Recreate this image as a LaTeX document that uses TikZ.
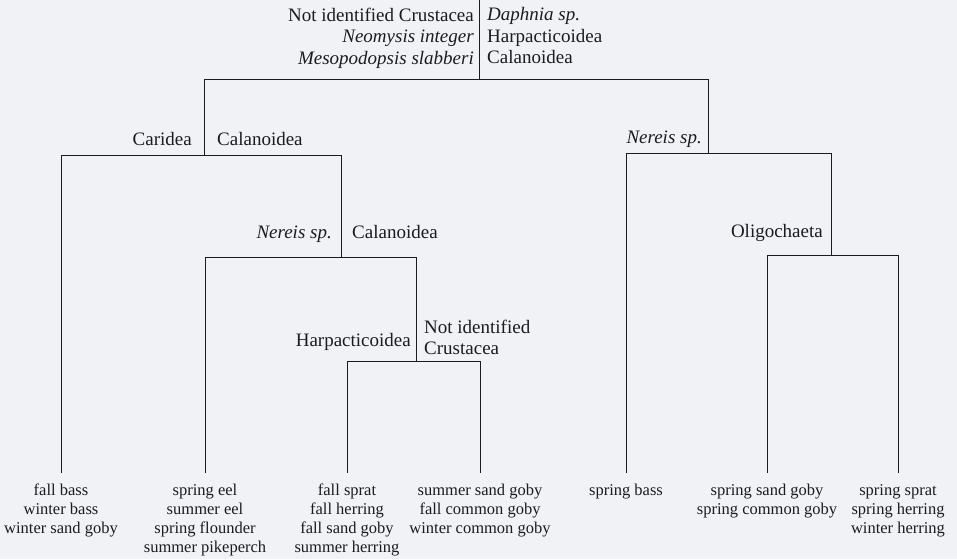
\documentclass[tikz,border=0pt]{standalone}
\usepackage{fontspec}
\setmainfont{Liberation Serif}
\usetikzlibrary{positioning}
\definecolor{paper}{RGB}{241,242,246}
\definecolor{ink}{RGB}{28,28,30}

\begin{document}
\begin{tikzpicture}[x=1pt, y=-1pt,
        branch/.style={draw=ink, line width=0.9pt},
        prey/.style={inner sep=0pt, text=ink, font=\fontsize{19}{21.5}\selectfont},
        leaf/.style={anchor=north, align=center, inner xsep=0pt, inner ysep=11pt,
            text=ink, font=\fontsize{16.5}{19}\selectfont}]
        \fill[paper] (0,0) rectangle (957,559);
        \useasboundingbox (0,0) rectangle (957,559);

        % joints of the tree
        \coordinate (top) at (479,0);
        \coordinate (n0) at (479,79);
        \coordinate (n1) at (204,155);
        \coordinate (n2) at (708,153);
        \coordinate (n3) at (341,257);
        \coordinate (n4) at (416,361);
        \coordinate (n5) at (831,255);

        % groups of fish
        \node[leaf] (g1) at (61,473) {fall bass\\winter bass\\winter sand goby};
        \node[leaf] (g2) at (205,473) {spring eel\\summer eel\\spring flounder\\summer pikeperch};
        \node[leaf] (g3) at (347,473) {fall sprat\\fall herring\\fall sand goby\\summer herring};
        \node[leaf] (g4) at (480,473) {summer sand goby\\fall common goby\\winter common goby};
        \node[leaf] (g5) at (626,473) {spring bass};
        \node[leaf] (g6) at (767,473) {spring sand goby\\spring common goby};
        \node[leaf] (g7) at (898,473) {spring sprat\\spring herring\\winter herring};

        % branches
        \draw[branch] (top) -- (n0);
        \foreach \a/\b in {n0/n1, n0/n2, n1/n3, n3/n4, n2/n5}{
                \draw[branch] (\a) -| (\b);
            }
        \foreach \a/\b in {n1/g1, n3/g2, n4/g3, n4/g4, n2/g5, n5/g6, n5/g7}{
                \draw[branch] (\a) -| (\b.north);
            }

        % prey at each split
        \node[prey, anchor=north east, align=right] (p0l) at (474,7.5)
            {Not identified Crustacea\\\textit{Neomysis integer}\\\textit{Mesopodopsis slabberi}};
        \node[prey, anchor=north west, align=left] (p0r) at (487,7.5)
            {\textit{Daphnia sp.}\\Harpacticoidea\\Calanoidea};
        \node[prey, anchor=base east] (p1l) at (192,145) {Caridea};
        \node[prey, anchor=base west] (p1r) at (217,145) {Calanoidea};
        \node[prey, anchor=base east] (p3l) at (332,238) {\textit{Nereis sp.}};
        \node[prey, anchor=base west] (p3r) at (352,238) {Calanoidea};
        \node[prey, anchor=base east] (p4l) at (411,346) {Harpacticoidea};
        \node[prey, anchor=north west, align=left] (p4r) at (424,319.5)
            {Not identified\\Crustacea};
        \node[prey, anchor=base east] (p2l) at (702,143) {\textit{Nereis sp.}};
        \node[prey, anchor=base east] (p5l) at (823,237) {Oligochaeta};

    \end{tikzpicture}
\end{document}
